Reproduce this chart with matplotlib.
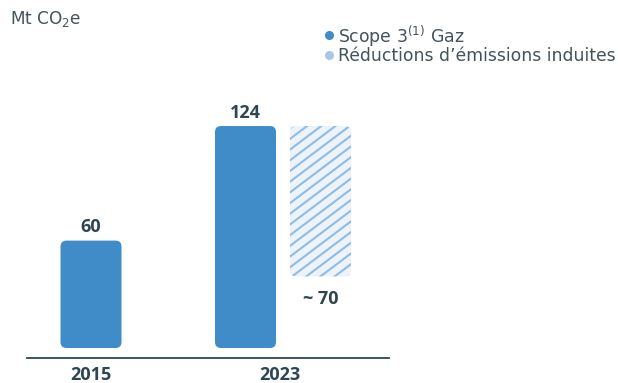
import matplotlib
matplotlib.use("Agg")
import matplotlib.pyplot as plt
from matplotlib.patches import FancyBboxPatch
from matplotlib.lines import Line2D
import numpy as np

plt.rcParams['font.family'] = ['DejaVu Sans']
plt.rcParams['mathtext.fontset'] = 'dejavusans'

# ---- data ----
years = ["2015", "2023"]
scope3_gaz = [60, 124]
reduction_top = 124          # floating bar drawn from the 2023 level
reduction_bottom = 40        # visual lower end of the hatched bar
reduction_label = "~ 70"
unit_label = "Mt CO$_2$e"
legend_labels = ["Scope 3$^{(1)}$ Gaz", "Réductions d’émissions induites"]

BLUE = "#3f8cc8"
LIGHT = "#edf3fa"
HATCH = "#8fbce3"
DARK = "#2e4650"
GREY = "#42535b"
LEG2 = "#a9c7e4"

W, H = 618, 383
fig = plt.figure(figsize=(W / 100, H / 100), dpi=100)

ax = fig.add_axes([27 / W, (H - 358) / H, (389 - 27) / W, (358 - 100) / H])
px_x = 154.5
px_y = 1.79
ax.set_xlim((27 - 91) / px_x, (389 - 91) / px_x)
ax.set_ylim(-10 / px_y, (348 - 100) / px_y)
for s in ["top", "right", "left"]:
    ax.spines[s].set_visible(False)
ax.spines["bottom"].set_color(DARK)
ax.spines["bottom"].set_linewidth(1.3)
ax.set_yticks([])
ax.set_xticks([])

bw = 61 / px_x
r_x = 6 / px_x
aspect = px_x / px_y

def rbar(x0, y0, w, h, **kw):
    p = FancyBboxPatch((x0, y0), w, h,
                       boxstyle=f"round,pad=0,rounding_size={r_x}",
                       mutation_aspect=aspect, **kw)
    ax.add_patch(p)
    return p

BOLD = dict(fontsize=13, fontweight="bold", color=DARK, family="Open Sans")

x = np.arange(len(years))
for xi, v in zip(x, scope3_gaz):
    rbar(xi - bw / 2, 0, bw, v, facecolor=BLUE, edgecolor="none")
    ax.text(xi, v + 8.5 / px_y, str(v), ha="center", va="baseline", **BOLD)

off = 75 / px_x
xr = x[1] + off
hp = rbar(xr - bw / 2, reduction_bottom, bw, reduction_top - reduction_bottom,
          facecolor=LIGHT, edgecolor="none")
ang = np.deg2rad(37)
spacing_px = 10.7
slope = np.tan(ang)
for k in range(-30, 30):
    xs_px = np.array([-40, 40])
    ys_px = k * spacing_px + slope * xs_px
    ln = ax.plot(xr + xs_px / px_x, reduction_bottom + ys_px / px_y,
                 color=HATCH, lw=1.5, solid_capstyle="butt")[0]
    ln.set_clip_path(hp)
ax.text(xr, reduction_bottom - 27.5 / px_y, reduction_label, ha="center",
        va="baseline", **BOLD)

label_x = [x[0], (x[1] + xr) / 2 - 3 / px_x]
for lx, lab in zip(label_x, years):
    ax.text(lx, -32 / px_y, lab, ha="center", va="baseline", **BOLD)

fig.text(10 / W, 1 - 24.3 / H, unit_label, ha="left", va="baseline",
         fontsize=12.2, color=GREY)

# legend (dots + labels)
leg_colors = [BLUE, LEG2]
leg_y = [33.5, 54]
for c, lab, yy in zip(leg_colors, legend_labels, leg_y):
    fig.add_artist(Line2D([329 / W], [1 - (yy + 1) / H], marker="o", ls="none",
                          markersize=5.5, color=c, transform=fig.transFigure))
    fig.text(338 / W, 1 - yy / H, lab, ha="left", va="center_baseline",
             fontsize=12.4, color=GREY)

fig.savefig("out.png", dpi=100, facecolor="white")
